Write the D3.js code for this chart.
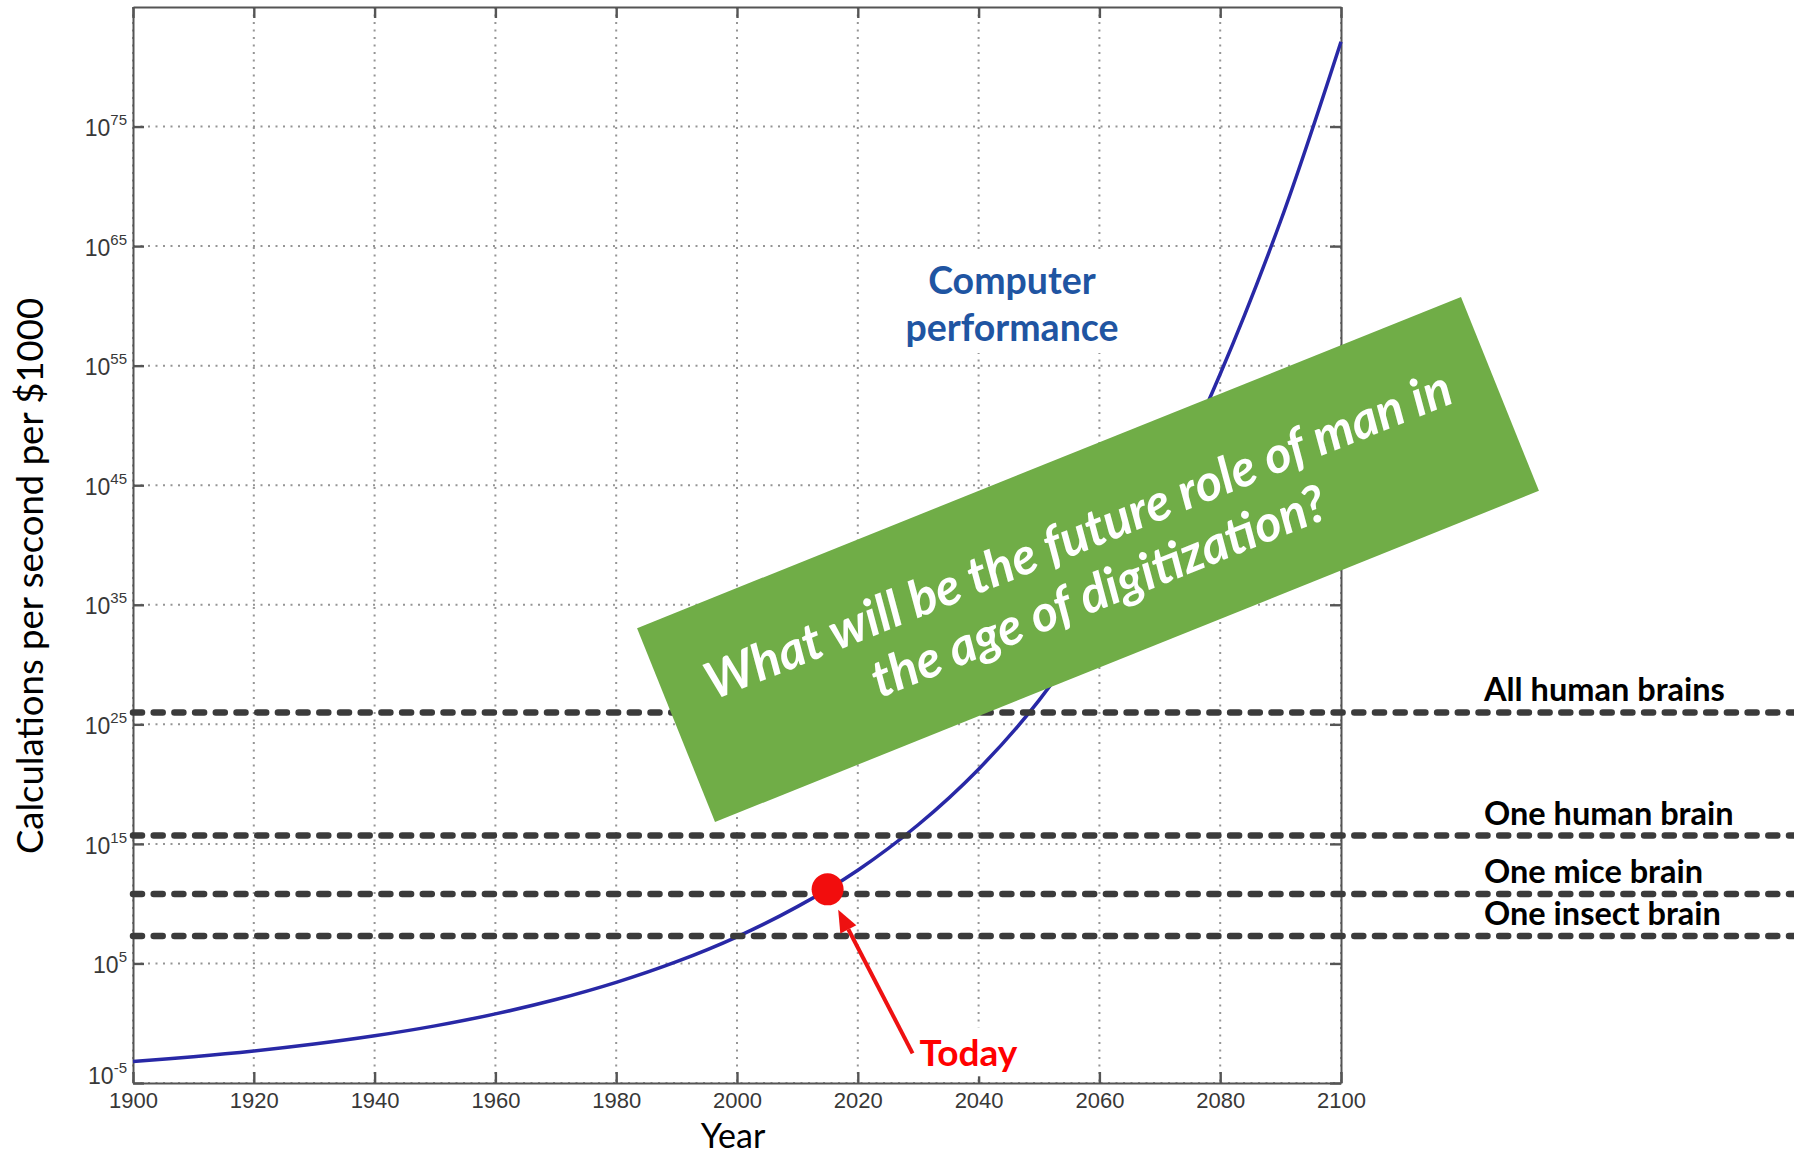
<!DOCTYPE html>
<html>
<head>
<meta charset="utf-8">
<script src="https://cdn.jsdelivr.net/npm/d3@7"></script>
<style>
  body { margin: 0; background: #fff; }
  svg { display: block; }
</style>
</head>
<body>
<svg id="chart" width="1794" height="1154"></svg>
<script>
// Computer performance, as log10 of calculations per second per $1000
var years = [1900, 1910, 1920, 1930, 1940, 1950, 1960, 1970, 1980, 1990, 2000, 2010, 2020, 2030, 2040, 2050, 2060, 2070, 2080, 2090, 2100];
var perfExponent = [-3.2, -2.8, -2.32, -1.74, -1.05, -0.22, 0.78, 1.98, 3.42, 5.15, 7.23, 9.75, 12.8, 16.6, 21.25, 27, 34.3, 43.3, 54.3, 67.1, 82.1];

// Brain capacity levels (log10)
var brainLabels = ["All human brains", "One human brain", "One mice brain", "One insect brain"];
var brainExponent = [26, 15.7, 10.8, 7.3];

var xTickYears = [1900, 1920, 1940, 1960, 1980, 2000, 2020, 2040, 2060, 2080, 2100];
var yTickExponents = [-5, 5, 15, 25, 35, 45, 55, 65, 75];

var todayYear = 2015;
var todayExponent = 11.2;

var width = 1794, height = 1154;
var margin = {left: 133, right: 453, top: 7, bottom: 71};
var labelFont = "Lato, 'Open Sans', sans-serif";

var svg = d3.select("#chart");

function pow10(e) {
  return Math.pow(10, e);
}

var x = d3.scaleLinear()
  .domain([1900, 2100])
  .range([margin.left, width - margin.right]);

var y = d3.scaleLog()
  .domain([1e-5, 1e85])
  .range([height - margin.bottom, margin.top]);

var plotTop = y.range()[1], plotBottom = y.range()[0];
var plotLeft = x.range()[0], plotRight = x.range()[1];

// Dotted grid
svg.append("g")
  .selectAll("line")
  .data(xTickYears)
  .enter().append("line")
  .attr("x1", function(d) { return x(d); })
  .attr("x2", function(d) { return x(d); })
  .attr("y1", plotTop)
  .attr("y2", plotBottom)
  .attr("stroke", "#959595")
  .attr("stroke-width", 2)
  .attr("stroke-dasharray", "2,5.5");

svg.append("g")
  .selectAll("line")
  .data(yTickExponents)
  .enter().append("line")
  .attr("x1", plotLeft)
  .attr("x2", plotRight)
  .attr("y1", function(d) { return y(pow10(d)); })
  .attr("y2", function(d) { return y(pow10(d)); })
  .attr("stroke", "#959595")
  .attr("stroke-width", 2)
  .attr("stroke-dasharray", "2,5.5");

// Axes (box with inward ticks)
function styleAxis(g) {
  g.select(".domain").attr("stroke", "#555").attr("stroke-width", 2);
  g.selectAll(".tick line").attr("stroke", "#555").attr("stroke-width", 2.4);
  g.attr("font-family", "'Liberation Sans', Arial, sans-serif")
    .attr("font-size", 22);
  g.selectAll(".tick text").attr("fill", "#383838");
}

svg.append("g")
  .attr("transform", "translate(0," + plotBottom + ")")
  .call(d3.axisBottom(x).tickValues(xTickYears).tickFormat(d3.format("d"))
    .tickSizeInner(-11).tickSizeOuter(0).tickPadding(9))
  .call(styleAxis);

svg.append("g")
  .attr("transform", "translate(0," + plotTop + ")")
  .call(d3.axisTop(x).tickValues(xTickYears).tickFormat("")
    .tickSizeInner(-11).tickSizeOuter(0))
  .call(styleAxis);

svg.append("g")
  .attr("transform", "translate(" + plotRight + ",0)")
  .call(d3.axisRight(y).tickValues(yTickExponents.map(pow10)).tickFormat("")
    .tickSizeInner(-11).tickSizeOuter(0))
  .call(styleAxis);

var yAxis = svg.append("g")
  .attr("transform", "translate(" + plotLeft + ",0)")
  .call(d3.axisLeft(y).tickValues(yTickExponents.map(pow10)).tickFormat("")
    .tickSizeInner(-11).tickSizeOuter(0).tickPadding(6))
  .call(styleAxis);

// 10 with a superscript exponent; the lowest one sits up off the x labels
yAxis.selectAll(".tick text")
  .attr("dy", function(d, i) { return i === 0 ? "0" : "0.4em"; })
  .attr("font-size", 23)
  .each(function(d) {
    var t = d3.select(this);
    t.append("tspan").text("10");
    t.append("tspan").attr("dy", -11).attr("font-size", 15)
      .text(Math.round(Math.log10(d)));
  });

// Performance curve
var line = d3.line()
  .x(function(d, i) { return x(years[i]); })
  .y(function(d) { return y(pow10(d)); })
  .curve(d3.curveCatmullRom.alpha(0.5));

svg.append("path")
  .datum(perfExponent)
  .attr("d", line)
  .attr("fill", "none")
  .attr("stroke", "#2828a6")
  .attr("stroke-width", 3.5);

// Brain levels, running past the plot to the page edge
svg.append("g")
  .selectAll("line")
  .data(brainExponent)
  .enter().append("line")
  .attr("x1", plotLeft)
  .attr("x2", width)
  .attr("y1", function(d) { return y(pow10(d)); })
  .attr("y2", function(d) { return y(pow10(d)); })
  .attr("stroke", "#3b3b3b")
  .attr("stroke-width", 6.5)
  .attr("stroke-linecap", "round")
  .attr("stroke-dasharray", "9,11.7");

svg.append("g")
  .selectAll("text")
  .data(brainLabels)
  .enter().append("text")
  .attr("x", plotRight + 143)
  .attr("y", function(d, i) { return y(pow10(brainExponent[i])) - 11; })
  .attr("font-family", labelFont)
  .attr("font-weight", 700)
  .attr("font-size", 32.5)
  .attr("fill", "#000")
  .text(function(d) { return d; });

// "Computer performance" label on a white patch
var perfLabel = svg.append("g");
var perfText = perfLabel.append("text")
  .attr("text-anchor", "middle")
  .attr("font-family", labelFont)
  .attr("font-weight", 700)
  .attr("font-size", 37.5)
  .attr("fill", "#1f55a2");
perfText.append("tspan").attr("x", 1012).attr("y", 294).text("Computer");
perfText.append("tspan").attr("x", 1012).attr("y", 341).text("performance");
var pb = perfText.node().getBBox();
perfLabel.insert("rect", "text")
  .attr("x", pb.x - 6).attr("y", pb.y - 4)
  .attr("width", pb.width + 12).attr("height", pb.height + 8)
  .attr("fill", "#fff");

// Green banner
var banner = svg.append("g")
  .attr("transform", "translate(1088,559.5) rotate(-21.9)");

banner.append("rect")
  .attr("x", -444).attr("y", -104.5)
  .attr("width", 888).attr("height", 209)
  .attr("fill", "#70ad47");

banner.append("text")
  .attr("x", 0).attr("y", -9)
  .attr("text-anchor", "middle")
  .attr("font-family", labelFont)
  .attr("font-weight", 700)
  .attr("font-style", "italic")
  .attr("font-size", 51)
  .attr("fill", "#fff")
  .text("What will be the future role of man in");

banner.append("text")
  .attr("x", -2).attr("y", 51)
  .attr("text-anchor", "middle")
  .attr("font-family", labelFont)
  .attr("font-weight", 700)
  .attr("font-style", "italic")
  .attr("font-size", 51)
  .attr("fill", "#fff")
  .text("the age of digitization?");

// Today marker with arrow
var tx = x(todayYear), ty = y(pow10(todayExponent));
var tail = [tx + 85, ty + 164];
var len = Math.hypot(tail[0] - tx, tail[1] - ty);
var dir = [(tail[0] - tx) / len, (tail[1] - ty) / len];
var tip = [tx + dir[0] * 23, ty + dir[1] * 23];
var headBase = [tip[0] + dir[0] * 22, tip[1] + dir[1] * 22];

var todayLabel = svg.append("g");
var todayText = todayLabel.append("text")
  .attr("x", tail[0] + 7)
  .attr("y", tail[1] + 13)
  .attr("font-family", labelFont)
  .attr("font-weight", 700)
  .attr("font-size", 37)
  .attr("fill", "#f00")
  .text("Today");
var tb = todayText.node().getBBox();
todayLabel.insert("rect", "text")
  .attr("x", tb.x - 2).attr("y", tb.y - 2)
  .attr("width", tb.width + 6).attr("height", tb.height + 4)
  .attr("fill", "#fff");

svg.append("line")
  .attr("x1", tail[0]).attr("y1", tail[1])
  .attr("x2", headBase[0]).attr("y2", headBase[1])
  .attr("stroke", "#ee1111")
  .attr("stroke-width", 4);

svg.append("path")
  .attr("d", "M" + tip[0] + "," + tip[1] +
    "L" + (headBase[0] - dir[1] * 9) + "," + (headBase[1] + dir[0] * 9) +
    "L" + (headBase[0] + dir[1] * 9) + "," + (headBase[1] - dir[0] * 9) + "Z")
  .attr("fill", "#ee1111");

svg.append("circle")
  .attr("cx", tx)
  .attr("cy", ty)
  .attr("r", 16)
  .attr("fill", "#f20d0d");

// Axis titles
svg.append("text")
  .attr("transform", "translate(43,576) rotate(-90)")
  .attr("text-anchor", "middle")
  .attr("font-family", labelFont)
  .attr("font-size", 36.5)
  .attr("fill", "#000")
  .text("Calculations per second per $1000");

svg.append("text")
  .attr("x", (plotLeft + plotRight) / 2 - 4)
  .attr("y", 1148)
  .attr("text-anchor", "middle")
  .attr("font-family", labelFont)
  .attr("font-size", 34)
  .attr("fill", "#000")
  .text("Year");
</script>
</body>
</html>
